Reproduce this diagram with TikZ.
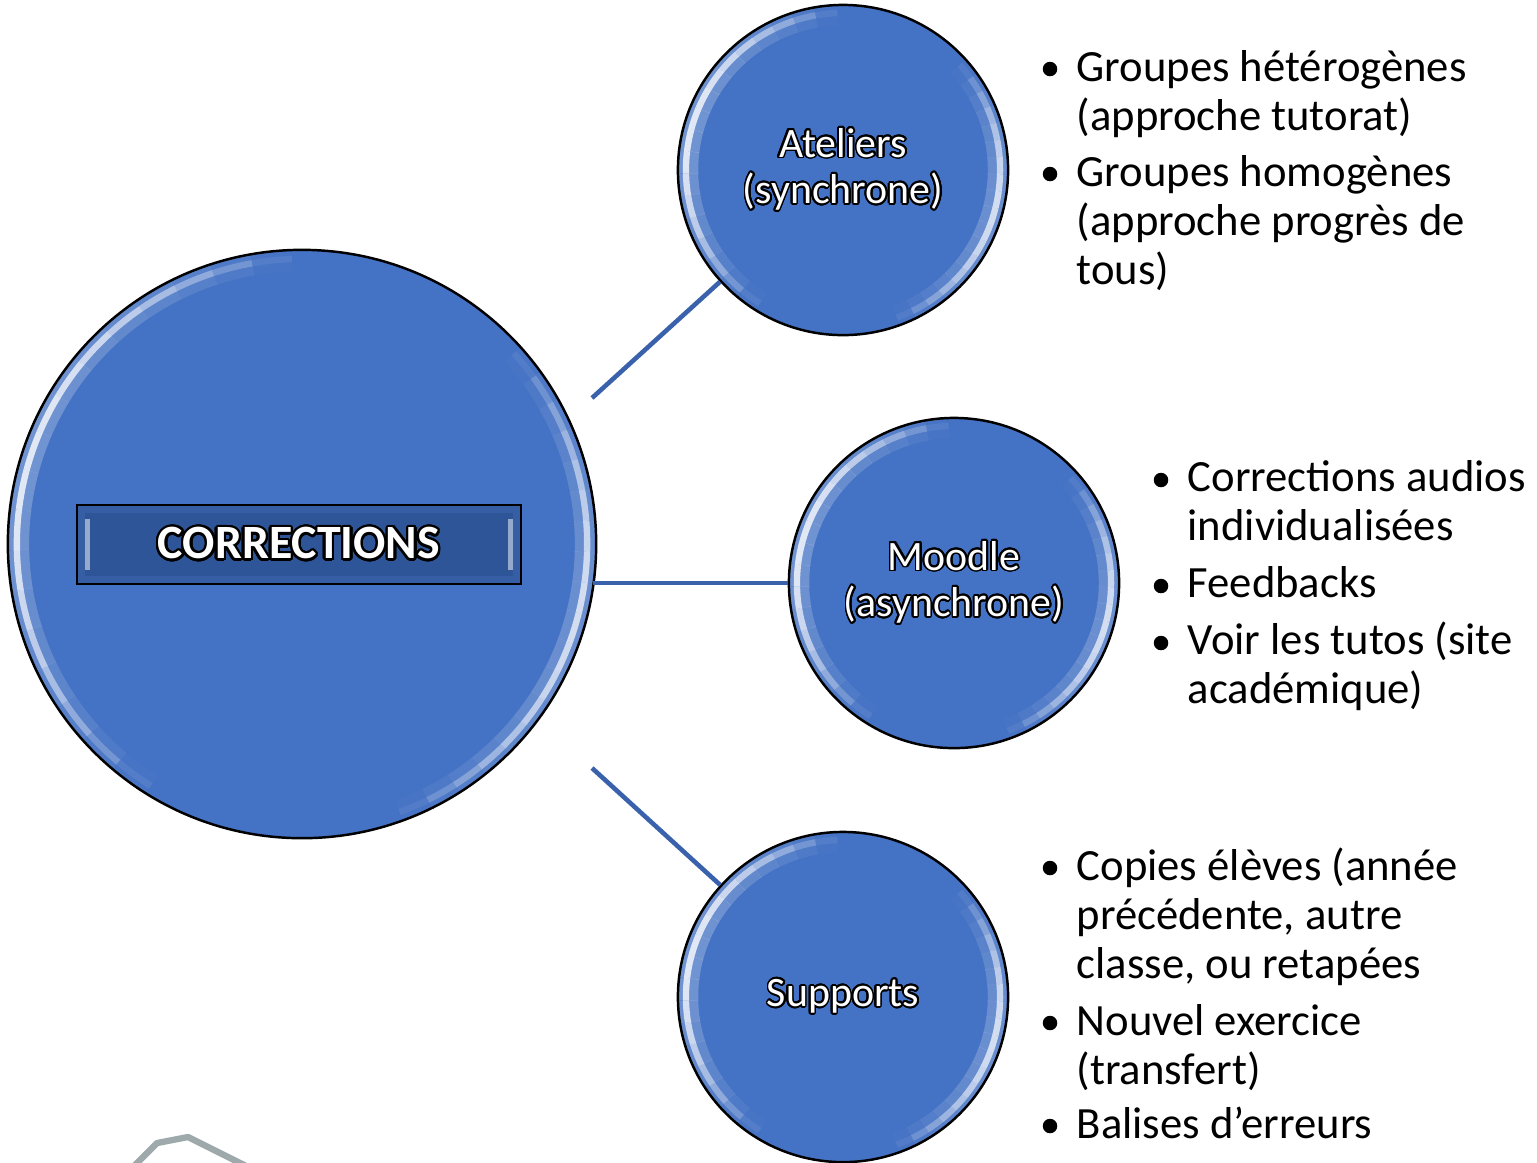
\documentclass[tikz,border=0pt]{standalone}
\usepackage{fontspec}
\setmainfont{Carlito}
\usepackage{contour}
\contournumber{24}
\definecolor{cblue}{HTML}{4472C4}
\definecolor{dblue}{HTML}{2E5597}
\definecolor{fblue}{HTML}{365EA5}
\definecolor{lblue}{HTML}{3A62AC}
\definecolor{gline}{HTML}{9EA9AB}
% fading highlight arc: #1 radius, #2 start, #3 end, #4 peak opacity
\newcommand\bevelarc[4]{%
  \foreach \k in {0,...,17}{%
    \pgfmathsetmacro\sa{#2+(#3-#2)*\k/18}%
    \pgfmathsetmacro\ea{#2+(#3-#2)*(\k+1)/18}%
    \pgfmathsetmacro\opa{#4*sin(180*(\k+0.5)/18)}%
    \pgfmathsetmacro\opb{0.3*\opa}%
    \draw[white,opacity=\opb,line width=7pt] (path picture bounding box.center) ++(\sa:#1) arc[start angle=\sa,end angle=\ea,radius=#1];
    \draw[white,opacity=\opa,line width=1.8pt] (path picture bounding box.center) ++(\sa:#1) arc[start angle=\sa,end angle=\ea,radius=#1];
  }}
\newcommand\bevelarcs[1]{\bevelarc{#1}{92}{238}{0.8}\bevelarc{#1}{-70}{42}{0.7}}
\tikzset{
  bub/.style={circle, draw=black, line width=0.7pt, fill=cblue, inner sep=0pt,
    text=white, align=center, font=\fontsize{11.9}{13.2}\selectfont},
  smallbub/.style={bub, minimum size=3.3cm, path picture={\bevelarcs{1.57cm}}},
  bigbub/.style={bub, minimum size=5.88cm, path picture={\bevelarcs{2.85cm}}},
  conn/.style={draw=lblue, line width=1.3pt},
  item/.style={anchor=base west, inner sep=0pt, font=\fontsize{12.7}{15}\selectfont},
  bul/.style={circle, fill=black, inner sep=0pt, minimum size=0.145cm},
  titlebox/.style={rectangle, draw=black, line width=0.6pt, fill=fblue,
    minimum width=4.44cm, minimum height=0.79cm, inner sep=0pt, text=white,
    font=\bfseries\fontsize{13.6}{15}\selectfont,
    path picture={
      \fill[dblue] ([xshift=0.08cm,yshift=-0.08cm]path picture bounding box.north west) rectangle ([xshift=-0.08cm,yshift=0.08cm]path picture bounding box.south east);
      \draw[white,opacity=.5,line width=1.4pt] ([xshift=0.11cm,yshift=-0.14cm]path picture bounding box.north west) -- ([xshift=0.11cm,yshift=0.14cm]path picture bounding box.south west);
      \draw[white,opacity=.5,line width=1.4pt] ([xshift=-0.11cm,yshift=-0.14cm]path picture bounding box.north east) -- ([xshift=-0.11cm,yshift=0.14cm]path picture bounding box.south east);
    }},
}
\contourlength{0.5pt}
\begin{document}
\begin{tikzpicture}[x=0.01cm,y=-0.01cm]
\useasboundingbox (0,0) rectangle (1537,1162);
\fill[white] (0,0) rectangle (1537,1162);

% faint gray fragment at bottom left
\draw[gline, line width=1.8pt, line join=round] (128,1172) -- (157,1143) -- (188,1137) -- (258,1172);

% circles
\node[bigbub] (main) at (302,544) {};
\node[smallbub] (atel) at (843,170) {\contour{black}{Ateliers}\\\contour{black}{(synchrone)}};
\node[smallbub] (moodle) at (954,583) {\contour{black}{Moodle}\\\contour{black}{(asynchrone)}};
\node[smallbub] (supp) at (843,997) {\contour{black}{Supports}};

\node[titlebox] (corr) at (299,544.5) {\contourlength{0.65pt}\contour{black}{CORRECTIONS}};

% connectors
\coordinate (c1) at (592,398);
\coordinate (c2) at (593,583);
\coordinate (c3) at (592,768);
\draw[conn] (c1) -- (atel);
\draw[conn] (c2) -- (moodle);
\draw[conn] (c3) -- (supp);

% group 1
\node[bul] (b1) at (1050,69) {};
\node[bul] (b2) at (1050,174) {};
\node[item] (t1a) at (1076,81) {Groupes hétérogènes};
\node[item] (t1b) at (1076,130) {(approche tutorat)};
\node[item] (t1c) at (1076,186) {Groupes homogènes};
\node[item] (t1d) at (1076,235) {(approche progrès de};
\node[item] (t1e) at (1076,284) {tous)};

% group 2
\node[bul] (b3) at (1161,480) {};
\node[bul] (b4) at (1161,586) {};
\node[bul] (b5) at (1161,643) {};
\node[item] (t2a) at (1187,491) {Corrections audios};
\node[item] (t2b) at (1187,540) {individualisées};
\node[item] (t2c) at (1187,597) {Feedbacks};
\node[item] (t2d) at (1187,654) {Voir les tutos (site};
\node[item] (t2e) at (1187,703) {académique)};

% group 3
\node[bul] (b6) at (1050,868) {};
\node[bul] (b7) at (1050,1023) {};
\node[bul] (b8) at (1050,1126) {};
\node[item] (t3a) at (1076,880) {Copies élèves (année};
\node[item] (t3b) at (1076,929) {précédente, autre};
\node[item] (t3c) at (1076,978) {classe, ou retapées};
\node[item] (t3d) at (1076,1035) {Nouvel exercice};
\node[item] (t3e) at (1076,1084) {(transfert)};
\node[item] (t3f) at (1076,1138) {Balises d’erreurs};
\end{tikzpicture}
\end{document}
